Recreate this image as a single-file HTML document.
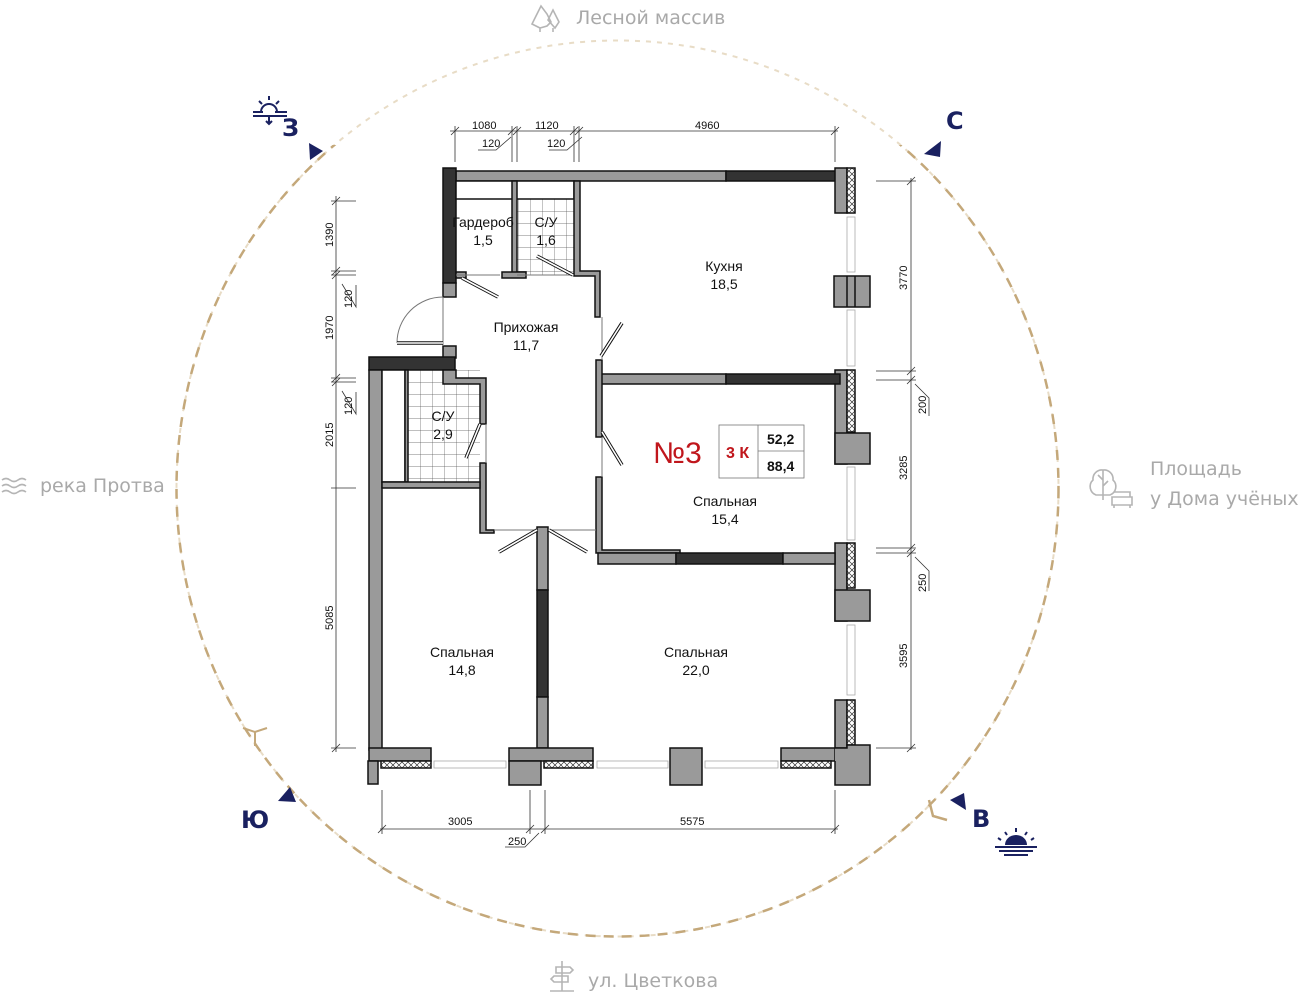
<!DOCTYPE html>
<html><head><meta charset="utf-8"><style>
html,body{margin:0;padding:0;background:#fff;width:1300px;height:995px;overflow:hidden}
svg{display:block}
.t{font-family:"Liberation Sans",sans-serif;fill:#111}
.d{font-family:"Liberation Sans",sans-serif;font-size:11px;fill:#111}
.s{font-family:"DejaVu Sans","Liberation Sans",sans-serif;fill:#a9a9a9;font-size:19px}
.c{font-family:"DejaVu Sans","Liberation Sans",sans-serif;fill:#1a2160;font-weight:bold;font-size:24px}
</style></head><body>
<svg width="1300" height="995" viewBox="0 0 1300 995" xmlns="http://www.w3.org/2000/svg">
<defs>
<pattern id="hx" width="6" height="6" patternUnits="userSpaceOnUse"><rect width="6" height="6" fill="#fff"/><path d="M0 0L6 6M6 0L0 6" stroke="#333" stroke-width="0.7"/></pattern>
<pattern id="tile" width="12" height="12" patternUnits="userSpaceOnUse" x="408" y="370"><rect width="12" height="12" fill="#fff"/><path d="M0 0H12M0 0V12" stroke="#555" stroke-width="0.7"/></pattern>
<pattern id="tile2" width="12" height="12" patternUnits="userSpaceOnUse" x="518" y="199"><rect width="12" height="12" fill="#fff"/><path d="M0 0H12M0 0V12" stroke="#555" stroke-width="0.7"/></pattern>
<clipPath id="low"><path d="M0 135 L330 135 L330 145 L0 145 Z M0 145 H1300 V995 H0 Z M925 135 H1300 V145 H925Z"/></clipPath>
</defs>
<!-- circle -->
<ellipse cx="617.5" cy="488.5" rx="441" ry="448" fill="none" stroke="#e8dcc6" stroke-width="2" stroke-dasharray="5 6"/>
<ellipse cx="617.5" cy="488.5" rx="441" ry="448" fill="none" stroke="#c4a87a" stroke-width="2.5" stroke-dasharray="10 8" clip-path="url(#low)"/>
<path d="M243 728 l12 4 l12 -4 M255 732 v14" stroke="#c4a87a" stroke-width="2" fill="none"/>
<path d="M929 800 l4 16 l14 4" stroke="#c4a87a" stroke-width="2.5" fill="none"/>
<!-- compass markers -->
<polygon points="309,143 323,151 310,160" fill="#1a2160"/>
<polygon points="941,141 940,157 924,154" fill="#1a2160"/>
<polygon points="290,787 296,802 278,801" fill="#1a2160"/>
<polygon points="950,800 964,793 966,810" fill="#1a2160"/>
<text class="c" x="282" y="136">З</text>
<text class="c" x="946" y="129">С</text>
<text class="c" x="241" y="828">Ю</text>
<text class="c" x="972" y="827">В</text>
<!-- sun icons -->
<g stroke="#1a2160" stroke-width="2" fill="none">
<path d="M261 112 a8 8 0 0 1 16 0"/><path d="M253 112h10M275 112h12M253 116h34M269 96v4M259 101l3 3M279 101l-3 3M269 117v6M266 121l3 3 3-3"/>
<path d="M995 847h42M999 851h34M1004 855h24"/>
<path d="M1016 832v-4M1007 835l-2-3M1025 835l2-3M1001 840l-3-2M1031 840l3-2"/>
</g>
<path d="M1005 845a11 10 0 0 1 22 0z" fill="#1a2160"/>
<!-- side labels -->
<g stroke="#b5b5b5" stroke-width="1.6" fill="none">
<path d="M540 28l-8-4 4-8 5-10 6 8 4 8-4 4zM540 28v4M548 20l5-10 6 12-4 6zM553 28v4"/>
<path d="M2 480q4-3 8 0t8 0t8 0M2 486q4-3 8 0t8 0t8 0M2 492q4-3 8 0t8 0t8 0"/>
<path d="M1103 500v-30M1103 480l-5-5M1103 486l5-5M1103 470a9 9 0 0 0-10 10a9 9 0 0 0 3 15h14a9 9 0 0 0 3-15a9 9 0 0 0-10-10M1112 497h20v8h-20zM1114 492h16v5M1114 505v3M1130 505v3"/>
<path d="M562 961v30M550 991h24M556 967h14l3 3-3 3h-14zM568 976h-14l-3 3 3 3h14z"/>
</g>
<text class="s" x="576" y="24">Лесной массив</text>
<text class="s" x="40" y="492">река Протва</text>
<text class="s" x="1150" y="475">Площадь</text>
<text class="s" x="1150" y="505">у Дома учёных</text>
<text class="s" x="588" y="987">ул. Цветкова</text>

<!-- dimension lines -->
<g stroke="#333" stroke-width="0.8" fill="none">
<path d="M450 131H838M455 126v36M512 126v36M517 126v36M574 126v36M579 126v36M835 126v36"/>
<path d="M451 135l8-8M508 135l8-8M513 135l8-8M570 135l8-8M575 135l8-8M831 135l8-8"/>
<path d="M478 150h18l15-13M549 150h18l15-13"/>
<path d="M336 196V752M331 201h25M331 271h25M331 275h25M331 378h25M331 382h25M331 488h25M331 748h25"/>
<path d="M332 205l8-8M332 275l8-8M332 279l8-8M332 382l8-8M332 386l8-8M332 752l8-8"/>
<path d="M356 285v22l-14-23M356 392v22l-14-23"/>
<path d="M911 178V750M876 181h40M876 371h40M876 380h40M876 548h40M876 553h40M876 748h40"/>
<path d="M907 185l8-8M907 375l8-8M907 384l8-8M907 552l8-8M907 557l8-8M907 752l8-8"/>
<path d="M915 384l14 14v18M915 557l14 14v20"/>
<path d="M380 829H838M382 790v44M530 790v44M545 790v44M835 790v44"/>
<path d="M378 833l8-8M526 833l8-8M541 833l8-8M831 833l8-8"/>
<path d="M505 847h20l14-14"/>
</g>
<g class="d">
<text x="472" y="129">1080</text><text x="535" y="129">1120</text><text x="695" y="129">4960</text>
<text x="482" y="147">120</text><text x="547" y="147">120</text>
<text x="448" y="825">3005</text><text x="680" y="825">5575</text><text x="508" y="845">250</text>
<text transform="translate(333 247) rotate(-90)">1390</text>
<text transform="translate(333 340) rotate(-90)">1970</text>
<text transform="translate(333 447) rotate(-90)">2015</text>
<text transform="translate(333 630) rotate(-90)">5085</text>
<text transform="translate(352 308) rotate(-90)">120</text>
<text transform="translate(352 415) rotate(-90)">120</text>
<text transform="translate(907 290) rotate(-90)">3770</text>
<text transform="translate(907 480) rotate(-90)">3285</text>
<text transform="translate(907 668) rotate(-90)">3595</text>
<text transform="translate(926 414) rotate(-90)">200</text>
<text transform="translate(926 592) rotate(-90)">250</text>
</g>

<!-- floors: tiles -->
<rect x="517" y="199" width="57" height="76" fill="url(#tile2)"/>
<rect x="408" y="370" width="72" height="112" fill="url(#tile)"/>

<!-- windows (light) -->
<g stroke="#aaa" stroke-width="0.8" fill="#fff">
<rect x="847" y="217" width="8" height="55"/>
<rect x="847" y="310" width="8" height="56"/>
<rect x="847" y="467" width="8" height="73"/>
<rect x="847" y="625" width="8" height="70"/>
<rect x="434" y="761" width="72" height="7"/>
<rect x="597" y="761" width="71" height="7"/>
<rect x="705" y="761" width="73" height="7"/>
</g>

<!-- walls -->
<g stroke="#111" stroke-width="1.5">
<rect x="456" y="171" width="270" height="10" fill="#9a9a9a"/>
<rect x="726" y="171" width="114" height="10" fill="#333"/>
<rect x="443" y="168" width="13" height="115" fill="#333"/>
<rect x="443" y="283" width="13" height="14" fill="#9a9a9a"/>
<rect x="456" y="181" width="118" height="18" fill="#fff"/>
<rect x="512" y="181" width="5" height="94" fill="#9a9a9a"/>
<rect x="502" y="272" width="24" height="6" fill="#9a9a9a"/>
<rect x="456" y="272" width="10" height="6" fill="#9a9a9a"/>
<path d="M574 181h6v90h20v46h-5v-41h-21z" fill="#9a9a9a"/>
<rect x="835" y="168" width="12" height="45" fill="#9a9a9a"/>
<rect x="847" y="168" width="8" height="45" fill="url(#hx)"/>
<rect x="834" y="276" width="36" height="31" fill="#9a9a9a"/>
<path d="M847 276v31M855 276v31" fill="none"/>
<rect x="835" y="370" width="12" height="94" fill="#9a9a9a"/>
<rect x="847" y="370" width="8" height="62" fill="url(#hx)"/>
<rect x="835" y="433" width="35" height="31" fill="#9a9a9a"/>
<rect x="835" y="543" width="12" height="78" fill="#9a9a9a"/>
<rect x="847" y="543" width="8" height="45" fill="url(#hx)"/>
<rect x="835" y="590" width="35" height="31" fill="#9a9a9a"/>
<rect x="835" y="700" width="12" height="48" fill="#9a9a9a"/>
<rect x="847" y="700" width="8" height="45" fill="url(#hx)"/>
<rect x="600" y="374" width="126" height="10" fill="#9a9a9a"/>
<rect x="726" y="374" width="114" height="10" fill="#333"/>
<rect x="596" y="360" width="6" height="77" fill="#9a9a9a"/>
<path d="M596 477h6v73h78v3h-84z" fill="#9a9a9a"/>
<rect x="598" y="553" width="78" height="11" fill="#9a9a9a"/>
<rect x="676" y="553" width="107" height="11" fill="#333"/>
<rect x="783" y="553" width="52" height="11" fill="#9a9a9a"/>
<rect x="443" y="346" width="13" height="12" fill="#9a9a9a"/>
<rect x="369" y="357" width="86" height="13" fill="#333"/>
<rect x="369" y="370" width="13" height="380" fill="#9a9a9a"/>
<rect x="382" y="370" width="23" height="112" fill="#fff"/>
<rect x="405" y="370" width="3" height="112" fill="#9a9a9a"/>
<path d="M443 370h13v8h30v46h-6v-40h-37z" fill="#9a9a9a"/>
<path d="M480 463h6v67h8v3h-14z" fill="#9a9a9a"/>
<rect x="382" y="482" width="98" height="6" fill="#9a9a9a"/>
<rect x="537" y="527" width="11" height="63" fill="#9a9a9a"/>
<rect x="537" y="590" width="11" height="107" fill="#333"/>
<rect x="537" y="697" width="11" height="51" fill="#9a9a9a"/>
<rect x="369" y="748" width="62" height="13" fill="#9a9a9a"/>
<rect x="509" y="748" width="84" height="13" fill="#9a9a9a"/>
<rect x="509" y="761" width="32" height="24" fill="#9a9a9a"/>
<rect x="670" y="748" width="32" height="37" fill="#9a9a9a"/>
<rect x="781" y="748" width="54" height="13" fill="#9a9a9a"/>
<path d="M835 748h12v-3h23v40h-35v-24" fill="#9a9a9a"/>
<rect x="368" y="761" width="10" height="23" fill="#9a9a9a"/>
<rect x="381" y="761" width="50" height="7" fill="url(#hx)"/>
<rect x="544" y="761" width="49" height="7" fill="url(#hx)"/>
<rect x="781" y="761" width="50" height="7" fill="url(#hx)"/>
</g>
<!-- doors -->
<g stroke="#777" stroke-width="1" fill="none">
<path d="M456 275h44M517 275h57M486 424v39M602 317v43M602 437v40M494 530h43M548 530h48M443 297v49"/>
<path d="M443 297a46 46 0 0 0-46 46"/>
</g>
<g stroke="#111" stroke-width="3.5"><path d="M462 278l36 19M537 256l36 19M601 356l21-33M480 424l-14 34M602 432l20 33M537 530l-38 22M549 530l38 22M397 343h46"/></g>
<g stroke="#fff" stroke-width="1.6"><path d="M462 278l36 19M537 256l36 19M601 356l21-33M480 424l-14 34M602 432l20 33M537 530l-38 22M549 530l38 22M397 343h46"/></g>

<!-- room labels -->
<g class="t" font-size="14" text-anchor="middle">
<text x="483" y="227">Гардероб</text><text x="483" y="245">1,5</text>
<text x="546" y="227">С/У</text><text x="546" y="245">1,6</text>
<text x="724" y="271">Кухня</text><text x="724" y="289">18,5</text>
<text x="526" y="332">Прихожая</text><text x="526" y="350">11,7</text>
<text x="443" y="421">С/У</text><text x="443" y="439">2,9</text>
<text x="725" y="506">Спальная</text><text x="725" y="524">15,4</text>
<text x="462" y="657">Спальная</text><text x="462" y="675">14,8</text>
<text x="696" y="657">Спальная</text><text x="696" y="675">22,0</text>
</g>
<text x="653" y="463" font-family="Liberation Sans,sans-serif" font-size="30" fill="#c0161c">№3</text>
<g stroke="#777" stroke-width="0.8" fill="none"><rect x="719" y="425" width="85" height="53"/><path d="M758 425v53M758 451h46"/></g>
<text x="726" y="458" font-family="Liberation Sans,sans-serif" font-size="16" font-weight="bold" fill="#c0161c">3 К</text>
<text x="767" y="444" font-family="Liberation Sans,sans-serif" font-size="14" font-weight="bold" fill="#111">52,2</text>
<text x="767" y="471" font-family="Liberation Sans,sans-serif" font-size="14" font-weight="bold" fill="#111">88,4</text>
</svg>
</body></html>
